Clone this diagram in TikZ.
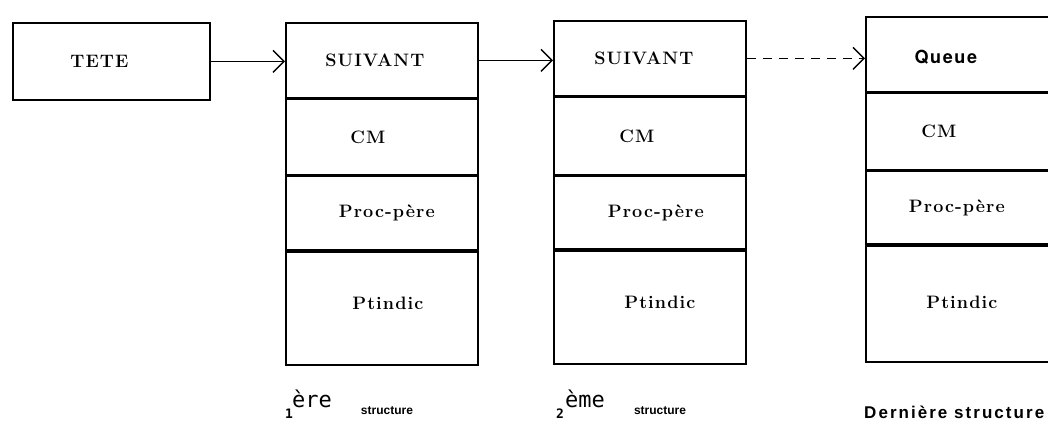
\documentclass[tikz,border=0pt]{standalone}
\usepackage{fontspec}
\usetikzlibrary{arrows.meta}
\newfontfamily\cellfont{Latin Modern Roman}[LetterSpace=6]
\newfontfamily\queuefont{TeX Gyre Heros}[LetterSpace=9]
\newfontfamily\ordfont{DejaVu Sans Mono}
\newfontfamily\capfont{Liberation Sans}
\newfontfamily\lastfont{Liberation Sans}[LetterSpace=12]

\begin{document}
\begin{tikzpicture}[x=1pt,y=-1pt,
  frame/.style={draw, line width=1.7pt, inner sep=0pt, anchor=north west, minimum width=192pt},
  txt/.style={inner sep=0pt, font=\cellfont\bfseries\fontsize{18}{20}\selectfont},
  link/.style={line width=1.4pt, -{Straight Barb[length=11pt,width=22pt,line width=1.4pt]}},
  ordinal/.style={inner sep=0pt, font=\ordfont\fontsize{22}{24}\selectfont},
  ordnum/.style={inner sep=0pt, font=\ordfont\bfseries\fontsize{13}{15}\selectfont},
  caption/.style={inner sep=0pt, font=\capfont\bfseries\fontsize{12}{14}\selectfont},
]
\useasboundingbox (0,0) rectangle (1048,429);
\clip (0,0) rectangle (1048,429);

% head pointer
\node[frame, minimum width=197pt, minimum height=77pt] (tete) at (12,22) {};
\node[txt] (ttete) at ([xshift=-12pt]tete.center) {TETE};

% first structure
\node[frame, minimum height=75pt] (a1) at (285,22) {};
\node[frame, minimum height=75pt] (b1) at (a1.south west) {};
\node[frame, minimum height=74pt] (c1) at (b1.south west) {};
\node[frame, minimum height=113pt] (d1) at (c1.south west) {};
\node[txt] (ta1) at ([xshift=-7pt]a1.center) {SUIVANT};
\node[txt] (tb1) at ([xshift=-14pt]b1.center) {CM};
\node[txt] (tc1) at ([xshift=5pt]c1.center) {Proc-père};
\node[txt] (td1) at ([xshift=6pt,yshift=5pt]d1.center) {Ptindic};

% second structure
\node[frame, minimum height=75pt] (a2) at (553,20) {};
\node[frame, minimum height=77pt] (b2) at (a2.south west) {};
\node[frame, minimum height=73pt] (c2) at (b2.south west) {};
\node[frame, minimum height=113pt] (d2) at (c2.south west) {};
\node[txt] (ta2) at ([xshift=-6pt]a2.center) {SUIVANT};
\node[txt] (tb2) at ([xshift=-13pt]b2.center) {CM};
\node[txt] (tc2) at ([xshift=6pt]c2.center) {Proc-père};
\node[txt] (td2) at ([xshift=10pt,yshift=5pt]d2.center) {Ptindic};

% last structure (runs off the right edge)
\node[frame, minimum height=75pt] (a3) at (865,16) {};
\node[frame, minimum height=76pt] (b3) at (a3.south west) {};
\node[frame, minimum height=73pt] (c3) at (b3.south west) {};
\node[frame, minimum height=116pt] (d3) at (c3.south west) {};
\node[inner sep=0pt, font=\queuefont\bfseries\fontsize{18}{20}\selectfont] (ta3) at ([xshift=-16pt,yshift=-3pt]a3.center) {Queue};
\node[txt] (tb3) at ([xshift=-23pt]b3.center) {CM};
\node[txt] (tc3) at ([xshift=-5pt]c3.center) {Proc-père};
\node[txt] (td3) at ([yshift=2pt]d3.center) {Ptindic};

% links
\draw[link] (tete.east) -- (tete.east -| a1.west);
\draw[link] (a1.east) -- (a1.east -| a2.west);
\draw[link, dash pattern=on 9pt off 7pt] (a2.east) -- (a2.east -| a3.west);

% captions
\node[ordnum] (n1) at (289,414) {1};
\node[ordinal] (o1) at (312,399) {ère};
\node[caption] (s1) at (387,411) {structure};
\node[ordnum] (n2) at (560,414) {2};
\node[ordinal] (o2) at (585,399) {ème};
\node[caption] (s2) at (660,411) {structure};
\node[inner sep=0pt, anchor=west, font=\lastfont\bfseries\fontsize{17}{19}\selectfont] (s3) at (864,412) {Dernière structure};
\end{tikzpicture}
\end{document}
